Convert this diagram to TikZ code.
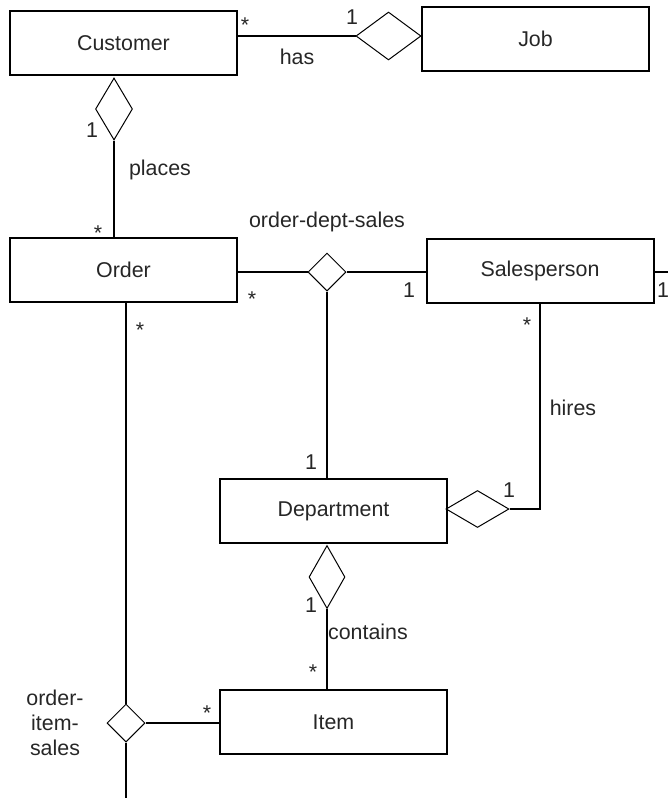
\documentclass[tikz,border=0pt]{standalone}
\usepackage{fontspec}
\setmainfont{Liberation Sans}
\usetikzlibrary{shapes.geometric}
\begin{document}
\begin{tikzpicture}[
      x=0.5pt, y=-0.5pt,
      every node/.style={font=\fontsize{10.7}{12.5}\selectfont, text=black!85},
      entity/.style={draw, line width=1pt, minimum width=113.5pt, minimum height=32pt, inner sep=0pt},
      agg/.style={diamond, draw, line width=0.5pt, inner sep=0pt},
      assoc/.style={diamond, draw, line width=0.5pt, inner sep=0pt, minimum width=19pt, minimum height=19pt},
      mult/.style={inner sep=1pt},
      link/.style={draw, line width=0.8pt}
    ]
      \useasboundingbox (0,0) rectangle (668,798);
      \node[entity] (customer) at (123.5,43) {Customer};
      \node[entity] (job) at (535.5,38.5) {Job};
      \node[entity] (order) at (123.5,270) {Order};
      \node[entity] (sales) at (540,270.5) {Salesperson};
      \node[entity] (dept) at (333.5,511) {Department};
      \node[entity] (item) at (333.5,722) {Item};
      \node[agg, minimum width=32.5pt, minimum height=24pt] (hasdia) at (388.5,36) {};
      \node[agg, minimum width=18.5pt, minimum height=31pt] (placesdia) at (114,109) {};
      \node[agg, minimum width=31.5pt, minimum height=18.5pt] (hiresdia) at (477.5,509) {};
      \node[agg, minimum width=18pt, minimum height=31.5pt] (containsdia) at (327,577) {};
      \node[assoc] (ods) at (327,272) {};
      \node[assoc] (ois) at (126,723) {};
      \coordinate (salesout) at (668,272);
      \coordinate (oisout) at (126,798);

      \draw[link] (hasdia.west -| customer.east) -- (hasdia.west);
      \draw[link] (placesdia.south) -- (placesdia.south |- order.north);
      \draw[link] (ods.west -| order.east) -- (ods.west);
      \draw[link] (ods.east) -- (ods.east -| sales.west);
      \draw[link] (salesout -| sales.east) -- (salesout);
      \draw[link] (ods.south) -- (ods.south |- dept.north);
      \draw[link] (sales.south) |- (hiresdia.east);
      \draw[link] (containsdia.south) -- (containsdia.south |- item.north);
      \draw[link] (ois.north |- order.south) -- (ois.north);
      \draw[link] (ois.east) -- (ois.east -| item.west);
      \draw[link] (ois.south) -- (oisout);

      \node[mult] (m1) at (245,25) {*};
      \node[mult] (m2) at (352,17) {1};
      \node (haslbl) at (297,57) {has};
      \node[mult] (m3) at (92,130) {1};
      \node (placeslbl) at (160,170) {places};
      \node[mult] (m4) at (98,233) {*};
      \node (odslbl) at (327,222) {order-dept-sales};
      \node[mult] (m5) at (252,299) {*};
      \node[mult] (m6) at (409,290) {1};
      \node[mult] (m7) at (663,290) {1};
      \node[mult] (m8) at (527,325) {*};
      \node (hireslbl) at (573,408) {hires};
      \node[mult] (m9) at (509,490) {1};
      \node[mult] (m10) at (311,462) {1};
      \node[mult] (m11) at (311,605) {1};
      \node (containslbl) at (368,632) {contains};
      \node[mult] (m12) at (313,672) {*};
      \node[mult] (m13) at (140,330) {*};
      \node[mult] (m14) at (207,713) {*};
      \node[align=center] (oislbl) at (55,723) {order-\\item-\\sales};
    \end{tikzpicture}
\end{document}
